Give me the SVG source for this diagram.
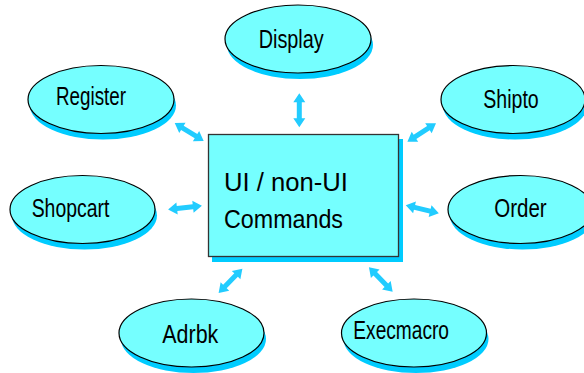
<svg xmlns="http://www.w3.org/2000/svg" xmlns:xlink="http://www.w3.org/1999/xlink" width="584" height="373" viewBox="0 0 584 373">
<defs>
<style>
.sh{fill:#00ccff;stroke:none}
.nd{fill:#75ffff;stroke:#000;stroke-width:1.2}
.lb{font-family:"Liberation Sans",Arial,sans-serif;font-size:25px;fill:#000}
.big{font-family:"Liberation Sans",Arial,sans-serif;font-size:25px;fill:#000}
.ar{fill:#22ccff;stroke:none}
</style>
<path id="dbl" d="M-17,0 L-8,-6 L-8,-2.5 L8,-2.5 L8,-6 L17,0 L8,6 L8,2.5 L-8,2.5 L-8,6 Z"/>
</defs>
<rect width="584" height="373" fill="#fff"/>
<g id="connectors" class="ar">
<use xlink:href="#dbl" transform="translate(189.2,132) rotate(31.6)"/>
<use xlink:href="#dbl" transform="translate(299.3,110.3) rotate(90)"/>
<use xlink:href="#dbl" transform="translate(421.7,132.5) rotate(-32.7)"/>
<use xlink:href="#dbl" transform="translate(185,207.7) rotate(-6.3)"/>
<use xlink:href="#dbl" transform="translate(422.3,209.3) rotate(13.5)"/>
<use xlink:href="#dbl" transform="translate(230.5,280.8) rotate(-45.7)"/>
<use xlink:href="#dbl" transform="translate(380.8,279.5) rotate(45.8)"/>
</g>
<g id="center">
<rect class="sh" x="212" y="139" width="191" height="123"/>
<rect x="208.5" y="134.5" width="190" height="122" fill="#75ffff" stroke="#333" stroke-width="1.3"/>
<text class="big" x="224" y="190.7" textLength="124" lengthAdjust="spacingAndGlyphs">UI / non-UI</text>
<text class="big" x="224" y="228.3" textLength="119" lengthAdjust="spacingAndGlyphs">Commands</text>
</g>
<g id="display">
<ellipse class="sh" cx="300" cy="45" rx="73" ry="34"/>
<ellipse class="nd" cx="298" cy="39" rx="73" ry="34"/>
<text class="lb" x="258.7" y="47.7" textLength="65" lengthAdjust="spacingAndGlyphs">Display</text>
</g>
<g id="register">
<ellipse class="sh" cx="103" cy="105.5" rx="73" ry="34"/>
<ellipse class="nd" cx="101" cy="99.5" rx="73" ry="34"/>
<text class="lb" x="56" y="105" textLength="70" lengthAdjust="spacingAndGlyphs">Register</text>
</g>
<g id="shipto">
<ellipse class="sh" cx="515" cy="105.5" rx="72" ry="34"/>
<ellipse class="nd" cx="513" cy="99.5" rx="72" ry="34"/>
<text class="lb" x="483.3" y="108" textLength="55.4" lengthAdjust="spacingAndGlyphs">Shipto</text>
</g>
<g id="shopcart">
<ellipse class="sh" cx="84.5" cy="215.5" rx="72.5" ry="34"/>
<ellipse class="nd" cx="82.5" cy="209.5" rx="72.5" ry="34"/>
<text class="lb" x="31.7" y="217.3" textLength="77.6" lengthAdjust="spacingAndGlyphs">Shopcart</text>
</g>
<g id="order">
<ellipse class="sh" cx="522.5" cy="215.5" rx="72.5" ry="34"/>
<ellipse class="nd" cx="520.5" cy="209.5" rx="72.5" ry="34"/>
<text class="lb" x="494.3" y="216.7" textLength="52.4" lengthAdjust="spacingAndGlyphs">Order</text>
</g>
<g id="adrbk">
<ellipse class="sh" cx="193.5" cy="339" rx="72.5" ry="34"/>
<ellipse class="nd" cx="191.5" cy="333" rx="72.5" ry="34"/>
<text class="lb" x="162.3" y="342.7" textLength="56" lengthAdjust="spacingAndGlyphs">Adrbk</text>
</g>
<g id="execmacro">
<ellipse class="sh" cx="416" cy="339" rx="72.5" ry="34"/>
<ellipse class="nd" cx="414" cy="333" rx="72.5" ry="34"/>
<text class="lb" x="353.3" y="339.3" textLength="95.7" lengthAdjust="spacingAndGlyphs">Execmacro</text>
</g>
</svg>
